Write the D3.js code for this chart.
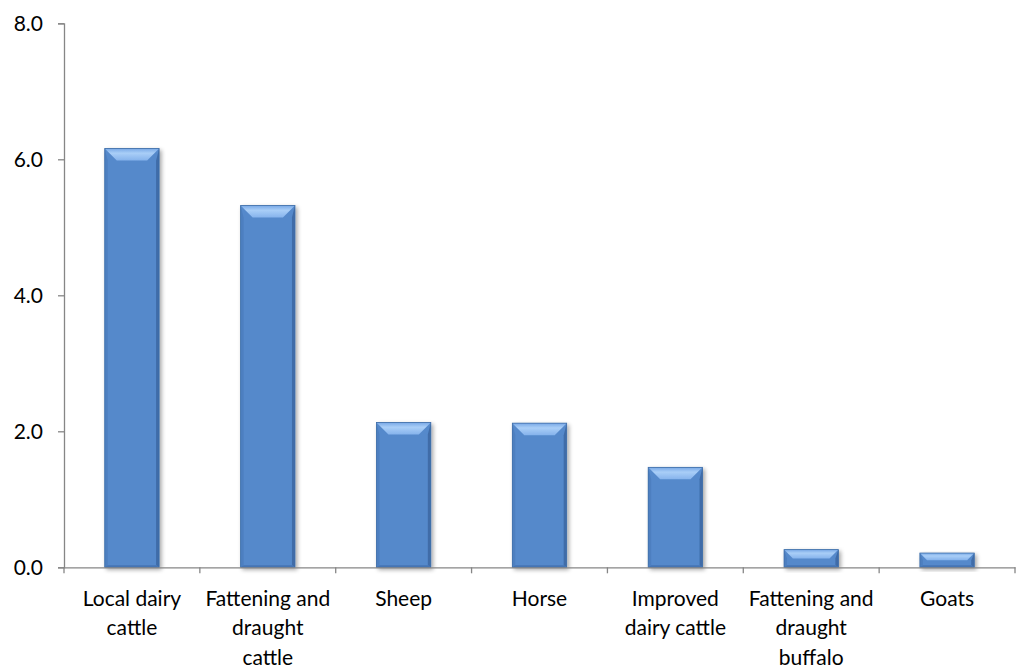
<!DOCTYPE html>
<html>
<head>
<meta charset="utf-8">
<script src="https://d3js.org/d3.v7.min.js"></script>
<style>
  body { margin: 0; background: #fff; }
  text { font-family: Lato, "Open Sans", sans-serif; fill: #000; }
</style>
</head>
<body>
<script>
// chart data
let categories = ["Local dairy cattle", "Fattening and draught cattle", "Sheep", "Horse",
                  "Improved dairy cattle", "Fattening and draught buffalo", "Goats"];
let labelLines = [["Local dairy", "cattle"], ["Fattening and", "draught", "cattle"], ["Sheep"], ["Horse"],
                  ["Improved", "dairy cattle"], ["Fattening and", "draught", "buffalo"], ["Goats"]];
let values = [6.16, 5.32, 2.13, 2.12, 1.47, 0.26, 0.21];
let yTicks = [0, 2, 4, 6, 8];

let width = 1016, height = 668;
let margin = {left: 64, right: 1, top: 23.3, bottom: 100.7};

let svg = d3.select("body").append("svg")
    .attr("width", width)
    .attr("height", height);

let defs = svg.append("defs");
let shadow = defs.append("filter").attr("id", "shadow")
    .attr("x", "-20%").attr("y", "-20%").attr("width", "150%").attr("height", "150%");
shadow.append("feGaussianBlur").attr("in", "SourceAlpha").attr("stdDeviation", 2).attr("result", "b");
shadow.append("feOffset").attr("in", "b").attr("dx", 1.5).attr("dy", 1.5).attr("result", "o");
shadow.append("feComponentTransfer").attr("in", "o").attr("result", "s")
    .append("feFuncA").attr("type", "linear").attr("slope", 0.35);
let merge = shadow.append("feMerge");
merge.append("feMergeNode").attr("in", "s");
merge.append("feMergeNode").attr("in", "SourceGraphic");

let topGrad = defs.append("linearGradient").attr("id", "topGrad")
    .attr("x1", 0).attr("y1", 0).attr("x2", 0).attr("y2", 1);
topGrad.append("stop").attr("offset", "0%").attr("stop-color", "#78a8e6");
topGrad.append("stop").attr("offset", "40%").attr("stop-color", "#a9cef7");
topGrad.append("stop").attr("offset", "100%").attr("stop-color", "#86b3ec");

let x = d3.scaleBand()
    .domain(categories)
    .range([margin.left, width - margin.right])
    .paddingInner(0.6)
    .paddingOuter(0.3);

let y = d3.scaleLinear()
    .domain([0, 8])
    .range([height - margin.bottom, margin.top]);

// bars with a bevel look
let bar = svg.append("g").selectAll("g")
    .data(values)
    .join("g")
    .attr("filter", "url(#shadow)");

let bev = 12, side = 3;
bar.each(function(d, i) {
    let g = d3.select(this);
    let x0 = x(categories[i]), w = x.bandwidth();
    let y0 = y(d), y1 = y(0);
    let h = y1 - y0;
    let b = Math.min(bev, h / 2);
    g.append("rect")
        .attr("x", x0).attr("y", y0).attr("width", w).attr("height", h)
        .attr("fill", "#5589cb");
    // left and right darker sides
    g.append("polygon")
        .attr("points", [[x0, y0], [x0 + side, y0 + b], [x0 + side, y1 - 2], [x0, y1]].join(" "))
        .attr("fill", "#4d7fc0");
    g.append("polygon")
        .attr("points", [[x0 + w, y0], [x0 + w - side, y0 + b], [x0 + w - side, y1 - 2], [x0 + w, y1]].join(" "))
        .attr("fill", "#3f6ca8");
    // bottom edge
    g.append("polygon")
        .attr("points", [[x0, y1], [x0 + side, y1 - 2], [x0 + w - side, y1 - 2], [x0 + w, y1]].join(" "))
        .attr("fill", "#4575b5");
    // top bevel
    g.append("polygon")
        .attr("points", [[x0, y0], [x0 + w, y0], [x0 + w - b, y0 + b], [x0 + b, y0 + b]].join(" "))
        .attr("fill", "url(#topGrad)");
    g.append("rect")
        .attr("x", x0).attr("y", y0).attr("width", w).attr("height", h)
        .attr("fill", "none").attr("stroke", "#3f6ea8").attr("stroke-width", 0.8);
});

// y axis
let yAxis = svg.append("g")
    .attr("transform", "translate(" + margin.left + ",0)")
    .call(d3.axisLeft(y).tickValues(yTicks).tickFormat(d3.format(".1f")).tickSize(6).tickPadding(15));
yAxis.select(".domain").attr("stroke", "#868686").attr("stroke-width", 1.3);
yAxis.selectAll(".tick line").attr("stroke", "#868686").attr("stroke-width", 1.3);
yAxis.selectAll(".tick text").attr("font-size", 21).attr("font-family", "Lato, sans-serif").attr("fill", "#000");

// x axis
let xAxis = svg.append("g")
    .attr("transform", "translate(0," + y(0) + ")")
    .call(d3.axisBottom(x).tickSizeOuter(0).tickSize(0).tickFormat(""));
xAxis.select(".domain").attr("stroke", "#868686").attr("stroke-width", 1.3);

// category separator ticks
let step = x.step();
let sepX = d3.range(categories.length + 1).map(i => margin.left + i * step);
svg.append("g").selectAll("line")
    .data(sepX)
    .join("line")
    .attr("x1", d => d).attr("x2", d => d)
    .attr("y1", y(0)).attr("y2", y(0) + 6)
    .attr("stroke", "#868686").attr("stroke-width", 1.3);

// category labels
let lbl = svg.append("g").selectAll("text")
    .data(categories)
    .join("text")
    .attr("text-anchor", "middle")
    .attr("font-size", 21)
    .attr("x", d => x(d) + x.bandwidth() / 2)
    .attr("y", y(0) + 38.5);
lbl.selectAll("tspan")
    .data((d, i) => labelLines[i])
    .join("tspan")
    .attr("x", function() { return this.parentNode.getAttribute("x"); })
    .attr("dy", (d, i) => i === 0 ? 0 : 29.5)
    .text(d => d);
</script>
</body>
</html>
